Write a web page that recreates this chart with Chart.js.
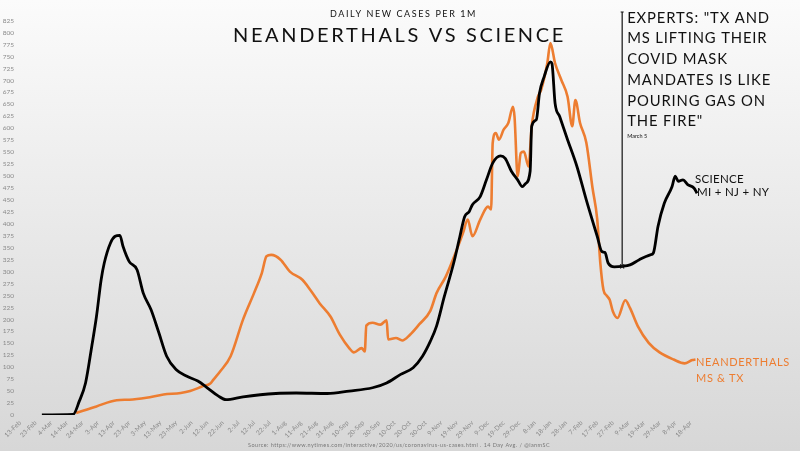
<!DOCTYPE html>
<html>
<head>
<meta charset="utf-8">
<script src="https://cdn.jsdelivr.net/npm/chart.js@4.4.1/dist/chart.umd.min.js"></script>
<style>
  html, body { margin: 0; padding: 0; }
  #wrap { width: 800px; height: 451px; position: relative; }
</style>
</head>
<body>
<div id="wrap"><canvas id="chart"></canvas></div>
<script>
// --- Data (day index counted from 13-Feb-2020) ---

const tickLabels = [
    '13-Feb', '23-Feb', '4-Mar', '14-Mar', '24-Mar', '3-Apr', '13-Apr', '23-Apr', '3-May', '13-May',
    '23-May', '2-Jun', '12-Jun', '22-Jun', '2-Jul', '12-Jul', '22-Jul', '1-Aug', '11-Aug', '21-Aug',
    '31-Aug', '10-Sep', '20-Sep', '30-Sep', '10-Oct', '20-Oct', '30-Oct', '9-Nov', '19-Nov', '29-Nov',
    '9-Dec', '19-Dec', '29-Dec', '8-Jan', '18-Jan', '28-Jan', '7-Feb', '17-Feb', '27-Feb', '9-Mar',
    '19-Mar', '29-Mar', '8-Apr', '18-Apr'
];
const tickDays = tickLabels.map((_, i) => i * 10);

const yTicks = { min: 0, max: 825, step: 25 };

// SCIENCE: MI + NJ + NY
const scienceDays = [
    14, 34, 38, 42, 46, 49, 52, 54, 58, 61, 64, 66, 70, 75, 79, 84, 89, 94, 100, 107,
    114, 120, 127, 132, 143, 164, 177, 197, 211, 226, 235, 244, 252, 258, 263, 267, 272, 278, 282, 285,
    288, 290, 295, 299, 303, 308, 311, 315, 319, 322, 324, 327, 328, 331, 333, 336, 340, 341, 343, 346,
    351, 357, 363, 370, 373, 375, 377, 381, 386, 391, 397, 404, 406, 409, 413, 418, 420, 422, 425, 428,
    432, 434
];
const scienceValues = [
    0, 1, 29, 67, 144, 206, 283, 318, 360, 374, 376, 353, 321, 304, 255, 220, 172, 123, 95, 81,
    71, 57, 40, 32, 38, 45, 46, 45, 50, 57, 67, 85, 99, 123, 154, 186, 248, 318, 374, 415,
    426, 440, 457, 492, 527, 542, 537, 510, 492, 478, 484, 510, 604, 618, 673, 708, 739, 735, 652, 624,
    576, 520, 450, 374, 342, 340, 318, 310, 311, 314, 325, 335, 339, 395, 443, 478, 500, 489, 492, 482,
    475, 464
];

// NEANDERTHALS: MS & TX
const neanderDays = [
    36, 49, 62, 70, 81, 92, 103, 109, 117, 122, 124, 128, 135, 143, 150, 155, 158, 161, 167, 173,
    181, 186, 192, 199, 205, 211, 214, 219, 221, 222, 226, 231, 235, 236, 241, 245, 250, 256, 263, 267,
    273, 280, 284, 287, 290, 295, 300, 302, 303, 305, 307, 310, 313, 316, 317, 319, 321, 323, 326, 328,
    332, 334, 338, 340, 343, 347, 351, 354, 356, 359, 363, 367, 370, 372, 374, 376, 378, 380, 383, 388,
    391, 396, 403, 410, 419, 426, 431, 433
];
const neanderValues = [
    4, 18, 31, 32, 36, 43, 46, 50, 60, 66, 74, 90, 123, 200, 255, 297, 332, 335, 325, 300,
    283, 262, 234, 206, 168, 140, 131, 140, 133, 187, 193, 189, 198, 158, 161, 156, 168, 190, 218, 255,
    290, 346, 381, 409, 374, 409, 436, 430, 569, 590, 576, 597, 611, 645, 624, 499, 548, 551, 520, 604,
    666, 680, 736, 778, 736, 701, 666, 604, 659, 611, 570, 475, 410, 318, 262, 250, 241, 217, 203, 240,
    224, 186, 151, 131, 116, 108, 115, 116
];

const maskDay = 386; // 5-Mar-2021

const scienceColor = '#000000';
const neanderColor = '#ED7D31';

function toPoints(days, values) {
    return days.map((d, i) => ({ x: d, y: values[i] }));
}

// --- Plugins ---

const backdrop = {
    id: 'backdrop',
    beforeDraw(chart) {
        const { ctx, width, height } = chart;
        const g = ctx.createLinearGradient(0, 0, 0, height);
        g.addColorStop(0, '#fbfbfb');
        g.addColorStop(1, '#d7d7d7');
        ctx.save();
        ctx.fillStyle = g;
        ctx.fillRect(0, 0, width, height);
        ctx.restore();
    }
};

// set font by size, then spread letters so the line is as wide as in the picture
function fitText(ctx, text, size, width) {
    ctx.letterSpacing = '0px';
    ctx.font = `normal ${size}px Lato`;
    const gap = (width - ctx.measureText(text).width) / text.length;
    ctx.letterSpacing = `${gap}px`;
}

const notes = {
    id: 'notes',
    afterDraw(chart) {
        const { ctx } = chart;
        const x = chart.scales.x;
        const y = chart.scales.y;
        ctx.save();
        ctx.textBaseline = 'alphabetic';

        // headings
        ctx.fillStyle = '#111';
        ctx.textAlign = 'left';
        fitText(ctx, 'DAILY NEW CASES PER 1M', 9, 147);
        ctx.fillText('DAILY NEW CASES PER 1M', 330, 17);
        fitText(ctx, 'NEANDERTHALS VS SCIENCE', 20, 333);
        ctx.fillText('NEANDERTHALS VS SCIENCE', 233, 42);

        // mask mandate marker
        const mx = x.getPixelForValue(maskDay);
        const top = 12;
        const bottom = y.getPixelForValue(311);
        ctx.strokeStyle = '#111';
        ctx.lineWidth = 1.2;
        ctx.beginPath();
        ctx.moveTo(mx, top);
        ctx.lineTo(mx, bottom);
        ctx.moveTo(mx - 1.5, top);
        ctx.lineTo(mx + 1.5, top);
        ctx.moveTo(mx - 2, bottom - 2);
        ctx.lineTo(mx + 2, bottom + 2);
        ctx.moveTo(mx + 2, bottom - 2);
        ctx.lineTo(mx - 2, bottom + 2);
        ctx.stroke();

        const lines = ['EXPERTS: "TX AND', 'MS LIFTING THEIR', 'COVID MASK', 'MANDATES IS LIKE', 'POURING GAS ON', 'THE FIRE"'];
        fitText(ctx, 'MANDATES IS LIKE', 14.8, 144);
        lines.forEach((t, i) => ctx.fillText(t, mx + 5, 22.7 + i * 20.7));
        ctx.letterSpacing = '0px';
        ctx.font = 'normal 5.5px Lato';
        ctx.fillText('March 5', mx + 5, 138);

        // series labels
        fitText(ctx, 'SCIENCE', 11.5, 49);
        ctx.fillText('SCIENCE', 695, 182.5);
        ctx.fillText('MI + NJ + NY', 697, 196);
        ctx.fillStyle = neanderColor;
        fitText(ctx, 'NEANDERTHALS', 11, 94);
        ctx.fillText('NEANDERTHALS', 696, 366);
        ctx.fillText('MS & TX', 696, 381.5);

        // source
        ctx.fillStyle = '#777';
        const src = 'Source: https://www.nytimes.com/interactive/2020/us/coronavirus-us-cases.html . 14 Day Avg. / @ianmSC';
        fitText(ctx, src, 5.5, 302);
        ctx.fillText(src, 248, 447);
        ctx.restore();
    }
};

// --- Chart ---

new Chart(document.getElementById('chart'), {
    type: 'line',
    data: {
        datasets: [
            {
                label: 'SCIENCE',
                data: toPoints(scienceDays, scienceValues),
                borderColor: scienceColor,
                borderWidth: 2.8,
                pointRadius: 0,
                cubicInterpolationMode: 'monotone'
            },
            {
                label: 'NEANDERTHALS',
                data: toPoints(neanderDays, neanderValues),
                borderColor: neanderColor,
                borderWidth: 2.6,
                pointRadius: 0,
                cubicInterpolationMode: 'monotone'
            }
        ]
    },
    options: {
        responsive: true,
        maintainAspectRatio: false,
        animation: false,
        devicePixelRatio: 1,
        layout: { padding: { top: 20.7, right: 0, bottom: 0, left: 0 } },
        plugins: {
            legend: { display: false },
            title: { display: false },
            tooltip: { enabled: false }
        },
        scales: {
            x: {
                type: 'linear',
                min: -1.3,
                max: 500,
                afterFit: s => { s.height = 36; },
                afterBuildTicks: s => { s.ticks = tickDays.map(v => ({ value: v })); },
                grid: { display: false, drawTicks: false },
                border: { display: false },
                ticks: {
                    autoSkip: false,
                    minRotation: 45,
                    maxRotation: 45,
                    padding: 4,
                    color: '#8a8a8a',
                    font: { family: 'Lato', size: 6.5 },
                    callback: v => tickLabels[tickDays.indexOf(v)]
                }
            },
            y: {
                min: yTicks.min,
                max: yTicks.max,
                afterFit: s => { s.width = 18; },
                grid: { display: false, drawTicks: false },
                border: { display: false },
                ticks: {
                    stepSize: yTicks.step,
                    padding: 4,
                    color: '#8a8a8a',
                    font: { family: 'Lato', size: 6.5 }
                }
            }
        }
    },
    plugins: [backdrop, notes]
});
</script>
</body>
</html>
